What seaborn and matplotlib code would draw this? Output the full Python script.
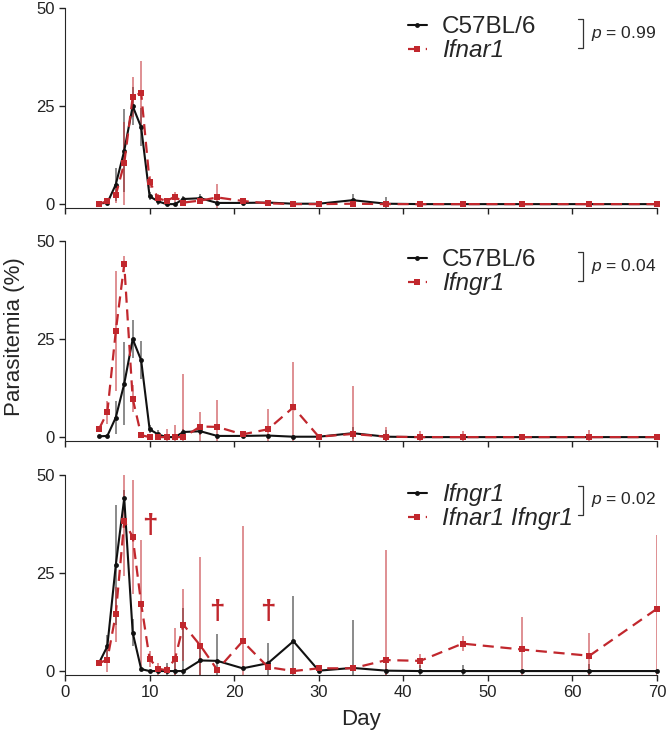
import seaborn as sns
import matplotlib.pyplot as plt
import numpy as np

# Dias de coleta
days = [4, 5, 6, 7, 8, 9, 10, 11, 12, 13, 14, 16, 18, 21, 24, 27, 30, 34, 38, 42, 47, 54, 62, 70]

# Parasitemia media e desvio de cada linhagem
c57_mean = [0.2, 0.3, 5.0, 13.6, 25.0, 19.6, 2.0, 0.7, 0.0, 0.0, 1.3, 1.5, 0.3, 0.3, 0.4, 0.1, 0.1, 1.0, 0.1, 0.0, 0.0, 0.0, 0.0, 0.0]
c57_sd = [0.1, 0.3, 4.2, 10.6, 4.8, 4.8, 1.0, 1.0, 0.3, 0.0, 0.8, 1.0, 0.5, 0.3, 0.5, 0.2, 0.2, 1.5, 1.7, 0.0, 0.0, 0.0, 0.0, 0.0]

ifnar1_mean = [0.0, 0.8, 2.3, 10.4, 27.3, 28.4, 5.7, 1.5, 0.8, 1.9, 0.4, 0.9, 1.7, 0.8, 0.2, 0.0, 0.0, 0.1, 0.0, 0.0, 0.0, 0.0, 0.0, 0.0]
ifnar1_sd = [0.0, 0.8, 2.0, 10.5, 5.0, 8.2, 1.5, 1.0, 0.5, 1.3, 0.5, 0.8, 3.4, 0.5, 0.3, 0.0, 0.0, 0.2, 0.0, 0.0, 0.0, 0.0, 0.0, 0.0]

ifngr1_mean = [2.0, 6.3, 27.0, 44.1, 9.8, 0.5, 0.0, 0.0, 0.0, 0.0, 0.0, 2.7, 2.6, 0.7, 2.0, 7.6, 0.1, 0.8, 0.1, 0.0, 0.0, 0.0, 0.0, 0.0]
ifngr1_sd = [0.5, 3.0, 15.3, 2.0, 3.5, 0.5, 0.0, 0.5, 2.0, 3.0, 16.0, 3.6, 6.9, 0.5, 5.2, 11.5, 0.3, 12.3, 2.6, 1.5, 1.5, 0.3, 1.8, 0.3]

dko_mean = [2.0, 2.9, 14.5, 38.2, 34.2, 17.2, 3.1, 0.6, 0.2, 3.1, 11.8, 6.5, 0.3, 7.6, 1.0, 0.0, 0.7, 0.7, 2.8, 2.6, 7.0, 5.5, 3.9, 15.9]
dko_sd = [0.5, 3.2, 7.0, 14.0, 14.6, 16.1, 2.0, 1.5, 1.0, 8.0, 9.2, 22.6, 0.3, 29.3, 0.5, 0.0, 0.3, 0.3, 28.0, 1.8, 1.9, 8.3, 5.8, 18.7]

# Obitos (cruz) no grupo duplo knockout
death_days = [10, 18, 24]
death_y = [37.0, 15.1, 15.1]

p_values = ["0.99", "0.04", "0.02"]

PRETO = "#111111"
VERMELHO = "#c1272d"


def gerar_grafico():
    sns.set_style("ticks")
    plt.rcParams['font.family'] = ['Liberation Sans', 'DejaVu Sans']
    plt.rcParams['mathtext.fontset'] = 'custom'
    plt.rcParams['mathtext.it'] = 'Liberation Sans:italic'
    plt.rcParams['mathtext.rm'] = 'Liberation Sans'

    fig = plt.figure(figsize=(6.67, 7.32), dpi=100)
    fundos = [0.7158, 0.3975, 0.0779]
    eixos = [fig.add_axes([0.0975, b, 0.8876, 0.2732]) for b in fundos]

    paineis = [
        ((c57_mean, c57_sd, "C57BL/6", False), (ifnar1_mean, ifnar1_sd, "Ifnar1", True)),
        ((c57_mean, c57_sd, "C57BL/6", False), (ifngr1_mean, ifngr1_sd, "Ifngr1", True)),
        ((ifngr1_mean, ifngr1_sd, "Ifngr1", True), (dko_mean, dko_sd, "Ifnar1 Ifngr1", True)),
    ]

    for i, (eixo, (s1, s2)) in enumerate(zip(eixos, paineis)):
        m1, d1, l1, it1 = s1
        m2, d2, l2, it2 = s2
        m1, d1, m2, d2 = map(np.array, (m1, d1, m2, d2))

        eixo.vlines(days, m1 - d1, m1 + d1, color="#555555", linewidth=1.2, alpha=0.8, zorder=1)
        eixo.vlines(days, m2 - d2, m2 + d2, color=VERMELHO, linewidth=1.2, alpha=0.6, zorder=1)

        sns.lineplot(x=days, y=m1, ax=eixo, color=PRETO, marker='o', markersize=3.5,
                     markeredgewidth=0, linewidth=1.5, label=l1, clip_on=False, zorder=3)
        sns.lineplot(x=days, y=m2, ax=eixo, color=VERMELHO, marker='s', markersize=3.8,
                     markeredgewidth=0, linewidth=1.6, linestyle=(0, (5, 3)), label=l2,
                     clip_on=False, zorder=4)

        eixo.set_xlim(0, 70)
        eixo.set_ylim(-1, 50)
        eixo.set_xticks(range(0, 71, 10))
        eixo.set_yticks([0, 25, 50])
        eixo.tick_params(labelsize=12, length=4, width=1, direction='out', colors='#222222')
        eixo.set_xlabel('')
        eixo.set_ylabel('')
        sns.despine(ax=eixo)
        if i < 2:
            eixo.tick_params(axis='x', labelbottom=False)

        leg = eixo.legend(loc='upper left', bbox_to_anchor=(0.558, 1.02), frameon=False,
                          fontsize=17.5, borderpad=0, handlelength=0.8, handletextpad=0.6,
                          labelspacing=0.05)
        for txt, ital in zip(leg.get_texts(), (it1, it2)):
            if ital:
                txt.set_style('italic')

        # colchete do p-valor
        x0 = 0.875
        eixo.plot([x0 - 0.008, x0, x0, x0 - 0.008], [0.945, 0.945, 0.80, 0.80],
                  transform=eixo.transAxes, color='#333333', linewidth=0.9, clip_on=False)
        eixo.text(0.888, 0.875, r"$\mathit{p}$ = " + p_values[i], transform=eixo.transAxes,
                  fontsize=12.5, va='center', ha='left')

    for d, y in zip(death_days, death_y):
        eixos[2].text(d, y, "\u2020", color=VERMELHO, fontsize=20, fontweight='bold',
                      ha='center', va='center')

    eixos[2].set_xlabel('Day', fontsize=16, labelpad=6)
    fig.text(0.022, 0.54, 'Parasitemia (%)', rotation=90, fontsize=16, va='center', ha='center')

    fig.savefig('out.png', dpi=100)


if __name__ == "__main__":
    gerar_grafico()
